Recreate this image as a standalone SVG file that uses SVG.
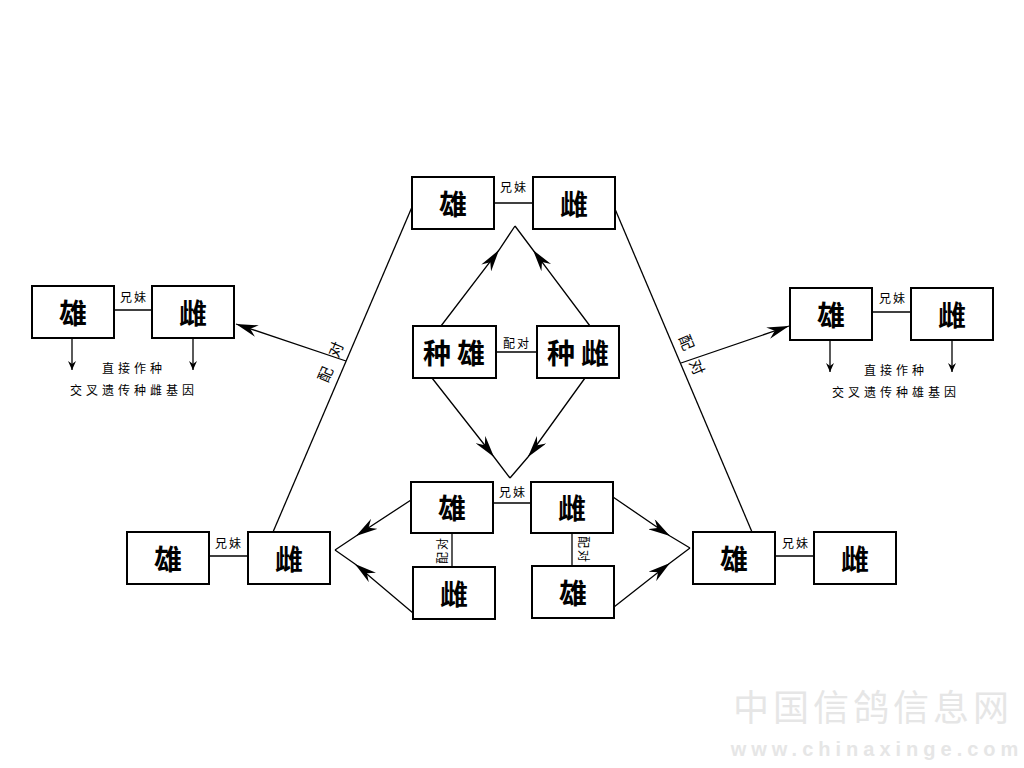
<svg xmlns="http://www.w3.org/2000/svg" width="1024" height="768" viewBox="0 0 1024 768">
<defs>
<style>
.box{fill:#fff;stroke:#000;stroke-width:2}
.big{font-family:"Noto Sans CJK SC","Noto Sans CJK JP",sans-serif;font-weight:bold;font-size:28px;text-anchor:middle;dominant-baseline:central;fill:#000}
.sm{font-family:"Noto Sans CJK SC","Noto Sans CJK JP",sans-serif;font-size:12px;text-anchor:middle;dominant-baseline:central;fill:#000;letter-spacing:2px}
.rot{font-size:15px;letter-spacing:12px}
.note{letter-spacing:4px}
.ln{stroke:#000;stroke-width:1.3;fill:none}
.wm{font-family:"Noto Sans CJK SC",sans-serif;fill:#e6e6e6;text-anchor:middle}
.wm2{font-family:"Liberation Sans",sans-serif;font-weight:bold;fill:#e6e6e6;text-anchor:middle}
</style>
<marker id="ah" markerUnits="userSpaceOnUse" markerWidth="26" markerHeight="12" refX="22" refY="6" orient="auto">
<path d="M0,0 L22,6 L0,12 L7,6 z" fill="#000"/>
</marker>
<marker id="as" markerUnits="userSpaceOnUse" markerWidth="10" markerHeight="8" refX="9" refY="4" orient="auto">
<path d="M0,0 L9,4 L0,8 L3,4 z" fill="#000"/>
</marker>
</defs>
<rect width="1024" height="768" fill="#fff"/>

<g id="watermark">
<text class="wm" x="873" y="721" style="font-size:36px;letter-spacing:4px">中国信鸽信息网</text>
<text class="wm2" x="877" y="756" style="font-size:20px;letter-spacing:5px">www.chinaxinge.com</text>
</g>

<g id="connectors">
<line class="ln" x1="494" y1="203" x2="533" y2="203"/>
<line class="ln" x1="496" y1="352" x2="537" y2="352"/>
<line class="ln" x1="493" y1="503" x2="531" y2="503"/>
<line class="ln" x1="452" y1="533" x2="452" y2="567"/>
<line class="ln" x1="572" y1="533" x2="572" y2="566"/>
<line class="ln" x1="209" y1="556" x2="248" y2="556"/>
<line class="ln" x1="775" y1="556" x2="814" y2="556"/>
<line class="ln" x1="114" y1="310" x2="152" y2="310"/>
<line class="ln" x1="872" y1="312" x2="911" y2="312"/>
<line class="ln" x1="412" y1="207" x2="273" y2="532"/>
<line class="ln" x1="615" y1="209" x2="752" y2="532"/>
<line class="ln" x1="346" y1="361" x2="236" y2="324" marker-end="url(#ah)" stroke-width="1.6"/>
<line class="ln" x1="681" y1="363" x2="789" y2="326" marker-end="url(#ah)" stroke-width="1.6"/>
<polyline class="ln" points="441,326 499,250 515,226" marker-mid="url(#ah)"/>
<polyline class="ln" points="590,326 533,250 515,226" marker-mid="url(#ah)"/>
<polyline class="ln" points="432,378 494,457 510,478" marker-mid="url(#ah)"/>
<polyline class="ln" points="585,378 528,457 510,478" marker-mid="url(#ah)"/>
<polyline class="ln" points="411,500 356,536 335,550" marker-mid="url(#ah)"/>
<polyline class="ln" points="413,613 355,564 335,550" marker-mid="url(#ah)"/>
<polyline class="ln" points="613,497 670,536 690,548" marker-mid="url(#ah)"/>
<polyline class="ln" points="614,607 670,563 690,548" marker-mid="url(#ah)"/>
<line class="ln" x1="72" y1="338" x2="72" y2="370" marker-end="url(#as)" stroke-width="1"/>
<line class="ln" x1="193" y1="338" x2="193" y2="370" marker-end="url(#as)" stroke-width="1"/>
<line class="ln" x1="830" y1="340" x2="830" y2="372" marker-end="url(#as)" stroke-width="1"/>
<line class="ln" x1="952" y1="340" x2="952" y2="372" marker-end="url(#as)" stroke-width="1"/>
</g>

<g id="labels">
<text class="sm" x="514" y="186">兄妹</text>
<text class="sm" x="517" y="342">配对</text>
<text class="sm" x="513" y="491">兄妹</text>
<text class="sm" x="229" y="542">兄妹</text>
<text class="sm" x="796" y="542">兄妹</text>
<text class="sm" x="134" y="296">兄妹</text>
<text class="sm" x="893" y="297">兄妹</text>
<text class="sm rot" transform="translate(332,356) rotate(-67)">配对</text>
<text class="sm rot" transform="translate(695,360) rotate(67)">配对</text>
<text class="sm" transform="translate(441,550) rotate(-90)">配对</text>
<text class="sm" transform="translate(584,550) rotate(90)">配对</text>
<text class="sm note" x="134" y="367">直接作种</text>
<text class="sm note" x="134" y="389">交叉遗传种雌基因</text>
<text class="sm note" x="896" y="369">直接作种</text>
<text class="sm note" x="896" y="391">交叉遗传种雄基因</text>
</g>

<g id="top-male"><rect class="box" x="412" y="177" width="82" height="52"/><text class="big" x="453" y="203">雄</text></g>
<g id="top-female"><rect class="box" x="533" y="177" width="82" height="52"/><text class="big" x="574" y="203">雌</text></g>
<g id="seed-male"><rect class="box" x="413" y="326" width="83" height="52"/><text class="big" x="457" y="352" style="letter-spacing:6px">种雄</text></g>
<g id="seed-female"><rect class="box" x="537" y="326" width="82" height="52"/><text class="big" x="581" y="352" style="letter-spacing:6px">种雌</text></g>
<g id="bc-male"><rect class="box" x="411" y="482" width="82" height="51"/><text class="big" x="452" y="507">雄</text></g>
<g id="bc-female"><rect class="box" x="531" y="482" width="82" height="51"/><text class="big" x="572" y="507">雌</text></g>
<g id="bc-female2"><rect class="box" x="413" y="567" width="82" height="52"/><text class="big" x="454" y="593">雌</text></g>
<g id="bc-male2"><rect class="box" x="532" y="566" width="82" height="52"/><text class="big" x="573" y="592">雄</text></g>
<g id="bl-male"><rect class="box" x="127" y="532" width="82" height="52"/><text class="big" x="168" y="558">雄</text></g>
<g id="bl-female"><rect class="box" x="248" y="532" width="82" height="52"/><text class="big" x="289" y="558">雌</text></g>
<g id="br-male"><rect class="box" x="693" y="532" width="82" height="52"/><text class="big" x="734" y="558">雄</text></g>
<g id="br-female"><rect class="box" x="814" y="532" width="82" height="52"/><text class="big" x="855" y="558">雌</text></g>
<g id="l-male"><rect class="box" x="32" y="286" width="82" height="52"/><text class="big" x="73" y="312">雄</text></g>
<g id="l-female"><rect class="box" x="152" y="286" width="82" height="52"/><text class="big" x="193" y="312">雌</text></g>
<g id="r-male"><rect class="box" x="790" y="288" width="82" height="52"/><text class="big" x="831" y="314">雄</text></g>
<g id="r-female"><rect class="box" x="911" y="288" width="82" height="52"/><text class="big" x="952" y="314">雌</text></g>
</svg>
